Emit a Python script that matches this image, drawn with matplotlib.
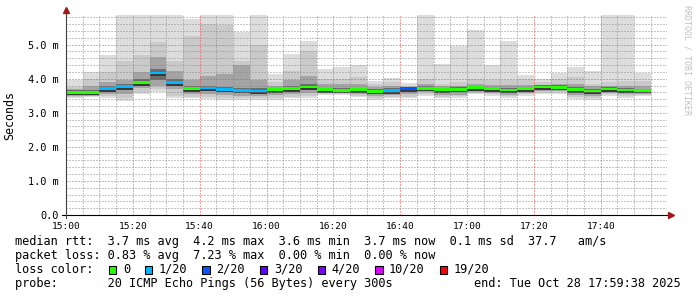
import matplotlib
matplotlib.use("Agg")
import matplotlib.pyplot as plt
import matplotlib.dates as mdates
from matplotlib.ticker import MultipleLocator, FuncFormatter
from matplotlib.patches import Rectangle
import pandas as pd

# 5 minute steps, 15:00 .. 17:50 (start of each step)
times = pd.date_range("2025-10-28 15:00", periods=35, freq="5min")

# median rtt (ms)
median = [3.60, 3.60, 3.71, 3.77, 3.89, 4.17, 3.89, 3.71, 3.73, 3.69,
          3.66, 3.64, 3.68, 3.71, 3.76, 3.68, 3.66, 3.68, 3.63, 3.65,
          3.71, 3.72, 3.68, 3.69, 3.74, 3.71, 3.67, 3.71, 3.76, 3.75,
          3.68, 3.64, 3.70, 3.67, 3.66]

# packet loss (%)
loss = [0, 0, 2.5, 2.5, 0, 3.0, 2.2, 0, 1.8, 2.8,
        2.0, 2.5, 0, 0, 0, 0, 0, 0, 0, 2.5,
        7.23, 0, 0, 0, 0, 0, 0, 0, 0, 0,
        0, 0, 0, 0, 0]

# smoke: spread of the pings around the median (ms), outer -> inner
smoke_hi1 = [3.95, 4.19, 4.71, 5.90, 5.90, 5.90, 5.90, 5.75, 5.90, 5.90,
             5.36, 5.90, 4.14, 4.73, 5.12, 4.29, 4.34, 4.41, 3.93, 4.03,
             3.87, 5.90, 4.43, 4.95, 5.43, 4.41, 5.10, 4.12, 4.00, 4.16,
             4.34, 4.24, 5.90, 5.90, 4.16]
smoke_hi2 = [3.77, 4.00, 4.19, 4.53, 4.71, 5.07, 4.53, 5.26, 5.60, 5.58,
             4.53, 5.00, 3.90, 4.24, 4.82, 4.00, 4.00, 4.04, 3.85, 3.90,
             3.80, 4.00, 3.85, 3.90, 4.00, 3.95, 3.95, 3.98, 3.90, 4.00,
             4.04, 3.85, 3.90, 3.92, 3.92]
smoke_hi3 = [3.70, 3.80, 3.90, 3.95, 4.19, 4.63, 4.24, 3.95, 4.09, 4.15,
             4.39, 3.95, 3.80, 3.95, 4.09, 3.85, 3.85, 3.85, 3.75, 3.78,
             3.76, 3.85, 3.78, 3.80, 3.85, 3.82, 3.82, 3.82, 3.82, 3.85,
             3.85, 3.78, 3.80, 3.80, 3.80]
smoke_hi4 = [3.66, 3.66, 3.78, 3.84, 3.98, 4.28, 3.98, 3.78, 3.80, 3.76,
             3.74, 3.72, 3.74, 3.78, 3.84, 3.74, 3.72, 3.74, 3.70, 3.72,
             3.76, 3.78, 3.74, 3.76, 3.80, 3.77, 3.74, 3.77, 3.81, 3.81,
             3.76, 3.70, 3.76, 3.73, 3.71]
smoke_lo4 = [3.54, 3.54, 3.65, 3.71, 3.80, 3.95, 3.82, 3.64, 3.67, 3.63,
             3.60, 3.58, 3.62, 3.65, 3.70, 3.62, 3.60, 3.62, 3.57, 3.59,
             3.65, 3.66, 3.62, 3.63, 3.68, 3.65, 3.61, 3.65, 3.70, 3.69,
             3.60, 3.58, 3.64, 3.61, 3.60]
smoke_lo3 = [3.50, 3.50, 3.56, 3.56, 3.72, 3.80, 3.70, 3.55, 3.55, 3.52,
             3.50, 3.48, 3.52, 3.55, 3.58, 3.57, 3.57, 3.55, 3.50, 3.52,
             3.55, 3.60, 3.52, 3.52, 3.62, 3.58, 3.52, 3.58, 3.64, 3.64,
             3.52, 3.50, 3.58, 3.54, 3.56]
smoke_lo2 = [3.47, 3.48, 3.48, 3.42, 3.60, 3.70, 3.48, 3.46, 3.45, 3.44,
             3.43, 3.42, 3.44, 3.47, 3.49, 3.54, 3.54, 3.50, 3.43, 3.46,
             3.47, 3.54, 3.46, 3.48, 3.58, 3.54, 3.48, 3.54, 3.60, 3.60,
             3.46, 3.43, 3.54, 3.48, 3.53]
smoke_lo1 = [3.44, 3.46, 3.44, 3.36, 3.54, 3.62, 3.44, 3.42, 3.41, 3.38,
             3.38, 3.38, 3.38, 3.42, 3.44, 3.51, 3.51, 3.46, 3.38, 3.42,
             3.42, 3.50, 3.42, 3.44, 3.55, 3.50, 3.44, 3.50, 3.56, 3.56,
             3.41, 3.38, 3.50, 3.44, 3.50]

loss_labels = ["0", "1/20", "2/20", "3/20", "4/20", "10/20", "19/20"]
loss_limits = [0, 5, 10, 15, 20, 50, 95]
loss_colors = ["#26ff00", "#00b8ff", "#0059ff", "#5e00ff", "#7e00ff", "#dd00ff", "#ff0000"]

rtt_line = "median rtt:  3.7 ms avg  4.2 ms max  3.6 ms min  3.7 ms now  0.1 ms sd  37.7   am/s"
loss_line = "packet loss: 0.83 % avg  7.23 % max  0.00 % min  0.00 % now"
probe_line = "probe:       20 ICMP Echo Pings (56 Bytes) every 300s"
end_line = "end: Tue Oct 28 17:59:38 2025"


def loss_color(p):
    for lim, c in zip(loss_limits, loss_colors):
        if p <= lim:
            return c
    return loss_colors[-1]


W, H = 697, 297
MONO = "DejaVu Sans Mono"
plt.rcParams["font.family"] = MONO

fig = plt.figure(figsize=(W / 100, H / 100), dpi=100)
ax = fig.add_axes([66 / W, 1 - 215 / H, 601 / W, 200 / H])

x = mdates.date2num(times)
w = 5 / 1440.0

bands = [(smoke_lo1, smoke_hi1, "#dddddd"),
         (smoke_lo2, smoke_hi2, "#cacaca"),
         (smoke_lo3, smoke_hi3, "#a4a4a4"),
         (smoke_lo4, smoke_hi4, "#6b6b6b")]
for lo, hi, c in bands:
    ax.bar(x, [h - l for h, l in zip(hi, lo)], bottom=lo, width=w, align="edge",
           color=c, linewidth=0, antialiased=False, zorder=1)

# dark core just below the median
ax.bar(x, 0.07, bottom=[m - 0.09 for m in median], width=w, align="edge",
       color="#3a3a3a", linewidth=0, antialiased=False, zorder=2)
ax.bar(x, 0.08, bottom=[m - 0.04 for m in median], width=w, align="edge",
       color=[loss_color(p) for p in loss], linewidth=0, antialiased=False, zorder=3)

ax.set_xlim(mdates.date2num(pd.Timestamp("2025-10-28 15:00")),
            mdates.date2num(pd.Timestamp("2025-10-28 17:59:50")))
ax.set_ylim(0, 5.87)

ax.xaxis.set_major_locator(mdates.MinuteLocator(byminute=[0, 20, 40]))
ax.xaxis.set_minor_locator(mdates.MinuteLocator(byminute=range(0, 60, 5)))
ax.xaxis.set_major_formatter(mdates.DateFormatter("%H:%M"))
ax.yaxis.set_major_locator(MultipleLocator(1))
ax.yaxis.set_minor_locator(MultipleLocator(0.2))
ax.yaxis.set_major_formatter(FuncFormatter(lambda v, p: "0.0" if v == 0 else f"{v:.1f} m"))

ax.set_axisbelow(False)
ax.grid(which="major", color=(1.0, 0.25, 0.25, 0.35), linestyle=(0, (1, 2)), linewidth=0.72, zorder=4)
ax.grid(which="minor", color=(0.55, 0.55, 0.55, 0.3), linestyle=(0, (1, 2)), linewidth=0.72, zorder=4)

ax.tick_params(which="both", length=0)
ax.tick_params(axis="x", labelsize=6.8, pad=5)
ax.tick_params(axis="y", labelsize=7.4, pad=5)
for s in ax.spines.values():
    s.set_visible(False)

# axes with arrows, rrdtool style
ax.plot([-4 / 601, 1 + 2 / 601], [0, 0], transform=ax.transAxes, color="black",
        lw=0.8, clip_on=False, zorder=5)
ax.plot([0, 0], [-3 / 200, 1 + 3 / 200], transform=ax.transAxes, color="#404040",
        lw=0.8, clip_on=False, zorder=5)
ax.plot([1 + 4 / 601], [0], marker=">", ms=4, color="#a01818", transform=ax.transAxes,
        clip_on=False, zorder=6)
ax.plot([0], [1 + 5 / 200], marker="^", ms=4, color="#a01818", transform=ax.transAxes,
        clip_on=False, zorder=6)

fig.text(10 / W, 1 - 115 / H, "Seconds", rotation=90, ha="center", va="center", fontsize=8.4)
fig.text(687 / W, 1 - 60 / H, "RRDTOOL / TOBI OETIKER", rotation=270, ha="center",
         va="center", fontsize=6, color="#c0c0c0")

# legend
fs = 8.6
adv = 0.602 * fs * 100 / 72
x0 = 15
fig.text(x0 / W, 1 - 244.7 / H, rtt_line, fontsize=fs, va="baseline")
fig.text(x0 / W, 1 - 258.7 / H, loss_line, fontsize=fs, va="baseline")
fig.text(x0 / W, 1 - 286.7 / H, probe_line, fontsize=fs, va="baseline")
fig.text(681 / W, 1 - 286.7 / H, end_line, fontsize=fs, va="baseline", ha="right")

fig.text(x0 / W, 1 - 272.7 / H, "loss color:", fontsize=fs, va="baseline")
col = 13
for lab, c in zip(loss_labels, loss_colors):
    bx = x0 + col * adv + 0.5
    fig.patches.append(Rectangle((bx / W, 1 - 273.5 / H), 7.5 / W, 7.5 / H,
                                 transform=fig.transFigure, facecolor=c,
                                 edgecolor="black", linewidth=0.8))
    fig.text((x0 + (col + 2) * adv) / W, 1 - 272.7 / H, lab, fontsize=fs, va="baseline")
    col += 2 + len(lab) + 2

fig.savefig("out.png", dpi=100)
